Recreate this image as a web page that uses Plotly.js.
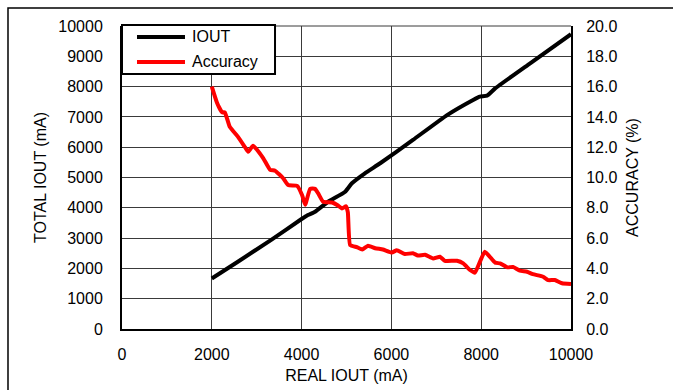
<!DOCTYPE html>
<html>
<head>
<meta charset="utf-8">
<script src="https://cdn.plot.ly/plotly-3.0.1.min.js"></script>
<style>html,body{margin:0;padding:0;background:#fff;}#chart{width:673px;height:390px;}</style>
</head>
<body>
<div id="chart"></div>
<script>
// IOUT series (left axis)
const realIout = [2000, 2580, 3340, 4000, 4140, 4300, 4590, 4970, 5120, 5410, 5750, 6480, 7240, 7820, 7970, 8130, 8310, 9090, 10000];
const totalIout = [1665, 2220, 2960, 3630, 3760, 3870, 4200, 4530, 4810, 5140, 5470, 6240, 7060, 7560, 7670, 7700, 7940, 8770, 9730];

// Accuracy series (right axis)
const accX = [2000, 2120, 2230, 2290, 2400, 2580, 2740, 2810, 2920, 3140, 3300, 3410, 3590, 3700, 3900, 4010, 4080, 4190, 4300, 4370, 4480, 4680, 4810, 4900, 4990, 5030, 5080, 5230, 5350, 5480, 5640, 5810, 6010, 6120, 6300, 6480, 6590, 6750, 6930, 7080, 7190, 7460, 7600, 7750, 7860, 8080, 8310, 8420, 8580, 8710, 8860, 9020, 9150, 9380, 9490, 9640, 9800, 10000];
const accuracy = [16.0, 14.9, 14.3, 14.3, 13.35, 12.7, 12.0, 11.7, 12.1, 11.3, 10.5, 10.45, 9.95, 9.5, 9.45, 8.85, 8.2, 9.25, 9.25, 8.95, 8.4, 8.35, 8.15, 7.95, 8.1, 7.7, 5.55, 5.4, 5.25, 5.5, 5.33, 5.25, 5.05, 5.2, 4.95, 5.0, 4.85, 4.9, 4.65, 4.77, 4.5, 4.5, 4.33, 3.9, 3.72, 5.1, 4.38, 4.33, 4.07, 4.1, 3.85, 3.78, 3.62, 3.45, 3.23, 3.23, 3.02, 2.97];

// Tick values
const xTicks = [0, 2000, 4000, 6000, 8000, 10000];
const yTicks = [0, 1000, 2000, 3000, 4000, 5000, 6000, 7000, 8000, 9000, 10000];
const y2Ticks = [0, 2, 4, 6, 8, 10, 12, 14, 16, 18, 20];

// Legend entries
const seriesNames = ['IOUT', 'Accuracy'];
const seriesColors = ['#000000', '#ff0000'];

const FONT = 'Liberation Sans, Arial, sans-serif';

const traces = [
  {x: realIout, y: totalIout, name: seriesNames[0], type: 'scatter', mode: 'lines',
   line: {color: seriesColors[0], width: 4, shape: 'spline', smoothing: 0.4}, yaxis: 'y'},
  {x: accX, y: accuracy, name: seriesNames[1], type: 'scatter', mode: 'lines',
   line: {color: seriesColors[1], width: 4, shape: 'spline', smoothing: 0.4}, yaxis: 'y2'}
];

// legend box geometry in paper coordinates
const legX0 = 0, legX1 = 0.3408, legY0 = 0.8416, legY1 = 1.0033;
const legLineX0 = 0.0334, legLineX1 = 0.1403, legTextX = 0.1514;
const legRows = [0.9637, 0.8812];

const shapes = [
  {type: 'rect', xref: 'paper', yref: 'paper', x0: -0.2539, x1: 1.26, y0: -0.23, y1: 1.0594,
   line: {color: '#000', width: 1.5}, fillcolor: 'rgba(0,0,0,0)', layer: 'below'},
  {type: 'line', xref: 'paper', yref: 'paper', x0: 0, x1: 1, y0: 1, y1: 1,
   line: {color: '#3a3a3a', width: 1}, layer: 'below'},
  {type: 'rect', xref: 'paper', yref: 'paper', x0: legX0, x1: legX1, y0: legY0, y1: legY1,
   line: {color: '#000', width: 2}, fillcolor: '#ffffff', layer: 'above'}
];
const annotations = [];
seriesNames.forEach((n, i) => {
  shapes.push({type: 'line', xref: 'paper', yref: 'paper', x0: legLineX0, x1: legLineX1,
               y0: legRows[i], y1: legRows[i], line: {color: seriesColors[i], width: 4}, layer: 'above'});
  annotations.push({xref: 'paper', yref: 'paper', x: legTextX, y: legRows[i], text: n,
                    showarrow: false, xanchor: 'left', yanchor: 'middle',
                    font: {family: FONT, size: 16, color: '#000'}});
});

const layout = {
  width: 673, height: 390,
  margin: {l: 122, r: 102, t: 26, b: 61, pad: 0},
  paper_bgcolor: '#ffffff', plot_bgcolor: '#ffffff',
  font: {family: FONT, size: 16, color: '#000000'},
  showlegend: false,
  xaxis: {range: [0, 10000], tickvals: xTicks, ticktext: xTicks.map(String), showgrid: true,
          gridcolor: '#3a3a3a', gridwidth: 1, showline: true, linecolor: '#000', linewidth: 2,
          mirror: false, zeroline: false, ticks: '', ticklabelstandoff: 10,
          tickfont: {family: FONT, size: 16},
          title: {text: 'REAL IOUT (mA)', font: {family: FONT, size: 16}, standoff: 8}},
  yaxis: {range: [0, 10000], tickvals: yTicks, ticktext: yTicks.map(String), showgrid: true,
          gridcolor: '#3a3a3a', gridwidth: 1, showline: true, linecolor: '#000', linewidth: 2,
          zeroline: false, ticks: '', ticklabelstandoff: 14,
          tickfont: {family: FONT, size: 16},
          title: {text: 'TOTAL IOUT (mA)', font: {family: FONT, size: 16}, standoff: 8}},
  yaxis2: {range: [0, 20], overlaying: 'y', side: 'right', tickvals: y2Ticks,
           ticktext: y2Ticks.map(v => v.toFixed(1)), showgrid: false, showline: true,
           linecolor: '#000', linewidth: 2, zeroline: false, ticks: '', ticklabelstandoff: 10,
           tickfont: {family: FONT, size: 16},
           title: {text: 'ACCURACY (%)', font: {family: FONT, size: 16}, standoff: 10}},
  shapes: shapes,
  annotations: annotations
};

Plotly.newPlot('chart', traces, layout, {staticPlot: true, displayModeBar: false});
</script>
</body>
</html>
